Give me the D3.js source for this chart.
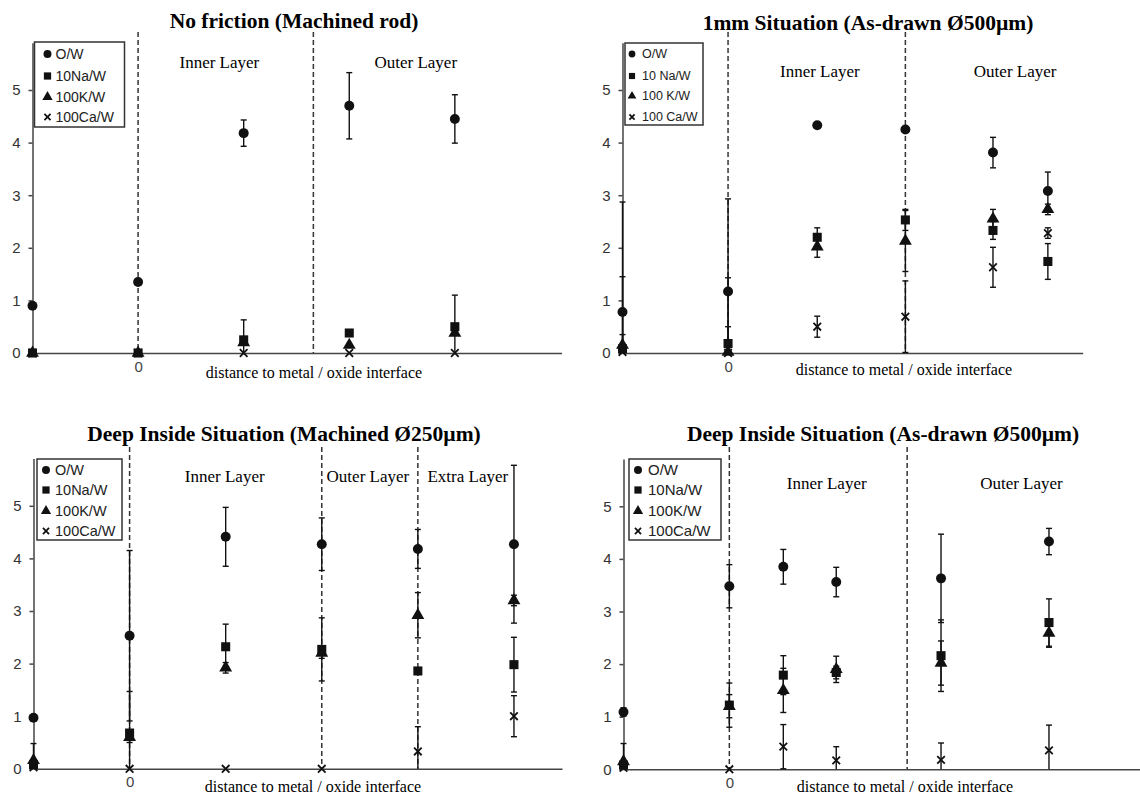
<!DOCTYPE html>
<html>
<head>
<meta charset="utf-8">
<script src="https://cdn.jsdelivr.net/npm/d3@7"></script>
<style>
  body { margin: 0; background: #fff; }
</style>
</head>
<body>
<svg width="1140" height="795"></svg>
<script>
// legend labels
let namesA = ["O/W", "10Na/W", "100K/W", "100Ca/W"];
let namesB = ["O/W", "10 Na/W", "100 K/W", "100 Ca/W"];
let yTicks = [0, 1, 2, 3, 4, 5];

// panel 1 - No friction (Machined rod)
let p1Pos = [-1, 0, 1, 2, 3];
let p1OW = [0.9, 1.35, 4.18, 4.7, 4.45];
let p1OWerr = [0, 0, 0.25, 0.63, 0.46];
let p1Na = [0, 0, 0.25, 0.38, 0.5];
let p1NaErr = [0, 0, 0.38, 0.05, 0.6];
let p1K = [0, 0, 0.2, 0.15, 0.38];
let p1Kerr = [0, 0, 0, 0, 0];
let p1Ca = [0, 0, 0, 0, 0];
let p1CaErr = [0, 0, 0, 0, 0];
let p1Dividers = [0, 1.66];
let p1Layers = [["Inner Layer", 0.77], ["Outer Layer", 2.63]];

// panel 2 - 1mm Situation (As-drawn)
let p2Pos = [-1, 0, 0.845, 1.68, 2.51, 3.03];
let p2OW = [0.78, 1.17, 4.33, 4.25, 3.81, 3.08];
let p2OWerr = [0.67, 1.76, 0.05, 0.05, 0.29, 0.36];
let p2Na = [0.08, 0.18, 2.2, 2.53, 2.33, 1.74];
let p2NaErr = [0.27, 0.32, 0.18, 0.2, 0.17, 0.34];
let p2K = [0.15, 0.02, 2.02, 2.13, 2.55, 2.73];
let p2Kerr = [2.72, 1.41, 0.2, 0.58, 0.18, 0.1];
let p2Ca = [0.02, 0, 0.5, 0.69, 1.63, 2.28];
let p2CaErr = [0, 0, 0.2, 0.68, 0.38, 0.1];
let p2Dividers = [0, 1.68];
let p2Layers = [["Inner Layer", 0.87], ["Outer Layer", 2.72]];

// panel 3 - Deep Inside Situation (Machined)
let p3Pos = [-1, 0, 1, 2, 3, 4];
let p3OW = [0.97, 2.53, 4.41, 4.27, 4.18, 4.27];
let p3OWerr = [0.05, 1.62, 0.56, 0.5, 0.37, 1.5];
let p3Na = [0.08, 0.68, 2.32, 2.27, 1.86, 1.98];
let p3NaErr = [0, 0.79, 0.43, 0.6, 0.05, 0.52];
let p3K = [0.16, 0.6, 1.92, 2.2, 2.92, 3.2];
let p3Kerr = [0.32, 0.1, 0.1, 0.1, 0.43, 0.1];
let p3Ca = [0.03, 0, 0, 0, 0.33, 1.0];
let p3CaErr = [0, 0, 0, 0, 0.47, 0.39];
let p3Dividers = [0, 2, 3];
let p3Layers = [["Inner Layer", 0.99], ["Outer Layer", 2.48], ["Extra Layer", 3.52]];

// panel 4 - Deep Inside Situation (As-drawn)
let p4Pos = [-1, 0, 0.51, 1.01, 2.0, 3.02];
let p4OW = [1.09, 3.48, 3.85, 3.56, 3.63, 4.33];
let p4OWerr = [0.08, 0.41, 0.33, 0.28, 0.84, 0.25];
let p4Na = [0.08, 1.22, 1.79, 1.84, 2.16, 2.79];
let p4NaErr = [0, 0.42, 0.37, 0.12, 0.68, 0.45];
let p4K = [0.15, 1.2, 1.5, 1.9, 2.02, 2.59];
let p4Kerr = [0.34, 0.22, 0.42, 0.25, 0.42, 0.27];
let p4Ca = [0.03, 0, 0.43, 0.17, 0.18, 0.36];
let p4CaErr = [0, 0, 0.42, 0.26, 0.32, 0.48];
let p4Dividers = [0, 1.68];
let p4Layers = [["Inner Layer", 0.92], ["Outer Layer", 2.76]];

let panels = [
  {title: "No friction (Machined rod)", names: namesA, pos: p1Pos,
   vals: [p1OW, p1Na, p1K, p1Ca], errs: [p1OWerr, p1NaErr, p1Kerr, p1CaErr],
   dividers: p1Dividers, layers: p1Layers, layerY: 5.53,
   x0: 32.5, x1: 561.5, xMax: 4.01, y0: 353, divTop: 32,
   titleX: 294, titleY: 28, labelX: 314, labelY: 378,
   legend: {x: 34.5, y: 42, w: 90, h: 85, mx: 13, tx: 21, dy: [12, 34, 55, 75], fs: 14, ms: 1}},
  {title: "1mm Situation (As-drawn \u00d8500\u00b5m)", names: namesB, pos: p2Pos,
   vals: [p2OW, p2Na, p2K, p2Ca], errs: [p2OWerr, p2NaErr, p2Kerr, p2CaErr],
   dividers: p2Dividers, layers: p2Layers, layerY: 5.36,
   x0: 622.5, x1: 1082.7, xMax: 3.36, y0: 353, divTop: 32,
   titleX: 868, titleY: 30, labelX: 904, labelY: 375,
   legend: {x: 625, y: 43, w: 78, h: 82, mx: 7, tx: 17, dy: [11, 33, 53, 74], fs: 12.5, ms: 0.85}},
  {title: "Deep Inside Situation (Machined \u00d8250\u00b5m)", names: namesA, pos: p3Pos,
   vals: [p3OW, p3Na, p3K, p3Ca], errs: [p3OWerr, p3NaErr, p3Kerr, p3CaErr],
   dividers: p3Dividers, layers: p3Layers, layerY: 5.56,
   x0: 33.5, x1: 562, xMax: 4.5, y0: 768.8, divTop: 447,
   titleX: 284, titleY: 441, labelX: 313, labelY: 792,
   legend: {x: 37, y: 459, w: 85, h: 81, mx: 9, tx: 18, dy: [11, 31, 52, 72], fs: 14.5, ms: 1}},
  {title: "Deep Inside Situation (As-drawn \u00d8500\u00b5m)", names: namesA, pos: p4Pos,
   vals: [p4OW, p4Na, p4K, p4Ca], errs: [p4OWerr, p4NaErr, p4Kerr, p4CaErr],
   dividers: p4Dividers, layers: p4Layers, layerY: 5.44,
   x0: 623.5, x1: 1140, xMax: 3.88, y0: 769.3, divTop: 447,
   titleX: 883, titleY: 441, labelX: 905, labelY: 792,
   legend: {x: 629, y: 459, w: 92, h: 81, mx: 9, tx: 19, dy: [11, 31, 52, 72], fs: 15, ms: 1}}
];

let svg = d3.select("svg");
let unitY = 52.6;
let ink = "#111";
let axisColor = "#444";
let serif = "'Liberation Serif', 'Times New Roman', serif";
let sans = "'Liberation Sans', Arial, sans-serif";

function markerPath(k, scale) {
  if (k === 3) {
    let s = 3.8 * scale;
    return `M${-s},${-s}L${s},${s}M${-s},${s}L${s},${-s}`;
  }
  let types = [d3.symbolCircle, d3.symbolSquare, d3.symbolTriangle];
  let sizes = [78, 82, 72];
  return d3.symbol().type(types[k]).size(sizes[k] * scale * scale)();
}

function styleMarker(sel, k) {
  if (k === 3) sel.attr("fill", "none").attr("stroke", ink).attr("stroke-width", 1.8);
  else sel.attr("fill", ink).attr("stroke", "none");
}

panels.forEach(p => {
  let g = svg.append("g");

  let x = d3.scaleLinear()
    .domain([-1, p.xMax])
    .range([p.x0, p.x1]);

  let y = d3.scaleLinear()
    .domain([0, 5.9])
    .range([p.y0, p.y0 - 5.9 * unitY]);

  // dashed layer dividers
  g.append("g").selectAll("line").data(p.dividers).enter().append("line")
    .attr("x1", d => x(d)).attr("x2", d => x(d))
    .attr("y1", p.divTop).attr("y2", y(0))
    .attr("stroke", "#333").attr("stroke-width", 1.5)
    .attr("stroke-dasharray", "5,3");

  // y axis
  g.append("g")
    .attr("transform", `translate(${p.x0},0)`)
    .call(d3.axisLeft(y).tickValues(yTicks).tickFormat(d3.format("d"))
      .tickSize(4).tickSizeOuter(0).tickPadding(8))
    .call(a => a.selectAll("path,line").attr("stroke", axisColor).attr("stroke-width", 1.5))
    .call(a => a.selectAll("text").attr("font-family", sans).attr("font-size", 15).attr("fill", "#333"));

  // x axis, only the "0" mark is labelled
  g.append("g")
    .attr("transform", `translate(0,${p.y0})`)
    .call(d3.axisBottom(x).tickValues([0]).tickFormat(d3.format("d")).tickSize(0).tickSizeOuter(0).tickPadding(8))
    .call(a => a.select(".domain").attr("stroke", axisColor).attr("stroke-width", 1.5))
    .call(a => a.selectAll("text").attr("font-family", sans).attr("font-size", 15).attr("fill", "#444"));

  // error bars
  p.vals.forEach((vals, k) => {
    let rows = vals.map((v, i) => ({x: p.pos[i], v: v, e: p.errs[k][i]})).filter(d => d.e > 0);
    let eb = g.append("g").attr("stroke", ink).attr("stroke-width", 1.4);
    eb.selectAll("line.bar").data(rows).enter().append("line")
      .attr("x1", d => x(d.x)).attr("x2", d => x(d.x))
      .attr("y1", d => y(Math.max(0, d.v - d.e))).attr("y2", d => y(d.v + d.e));
    eb.selectAll("line.top").data(rows).enter().append("line")
      .attr("x1", d => x(d.x) - 3).attr("x2", d => x(d.x) + 3)
      .attr("y1", d => y(d.v + d.e)).attr("y2", d => y(d.v + d.e));
    eb.selectAll("line.bot").data(rows.filter(d => d.v - d.e > 0)).enter().append("line")
      .attr("x1", d => x(d.x) - 3).attr("x2", d => x(d.x) + 3)
      .attr("y1", d => y(d.v - d.e)).attr("y2", d => y(d.v - d.e));
  });

  // markers
  p.vals.forEach((vals, k) => {
    g.append("g").selectAll("path").data(vals).enter().append("path")
      .attr("transform", (d, i) => `translate(${x(p.pos[i])},${y(d)})`)
      .attr("d", markerPath(k, 1))
      .call(s => styleMarker(s, k));
  });

  // layer names
  g.selectAll("text.layer").data(p.layers).enter().append("text")
    .attr("class", "layer")
    .attr("x", d => x(d[1])).attr("y", y(p.layerY))
    .attr("dy", "0.35em")
    .attr("text-anchor", "middle")
    .attr("font-family", serif).attr("font-size", 17)
    .text(d => d[0]);

  // title
  g.append("text")
    .attr("x", p.titleX).attr("y", p.titleY)
    .attr("text-anchor", "middle")
    .attr("font-family", serif).attr("font-weight", "bold").attr("font-size", 21.5)
    .text(p.title);

  // x axis label
  g.append("text")
    .attr("x", p.labelX).attr("y", p.labelY)
    .attr("text-anchor", "middle")
    .attr("font-family", serif).attr("font-size", 16)
    .text("distance to metal / oxide interface");

  // legend
  let L = p.legend;
  let lg = g.append("g").attr("transform", `translate(${L.x},${L.y})`);
  lg.append("rect")
    .attr("width", L.w).attr("height", L.h)
    .attr("fill", "#fff").attr("stroke", "#333").attr("stroke-width", 1.5);
  let item = lg.selectAll("g.item").data(p.names).enter().append("g")
    .attr("transform", (d, i) => `translate(0,${L.dy[i]})`);
  item.append("path")
    .attr("transform", `translate(${L.mx},0)`)
    .attr("d", (d, i) => markerPath(i, 0.8 * L.ms))
    .each(function(d, i) { styleMarker(d3.select(this), i); });
  item.append("text")
    .attr("x", L.tx).attr("dy", "0.35em")
    .attr("font-family", sans).attr("font-size", L.fs).attr("fill", "#222")
    .text(d => d);
});
</script>
</body>
</html>
